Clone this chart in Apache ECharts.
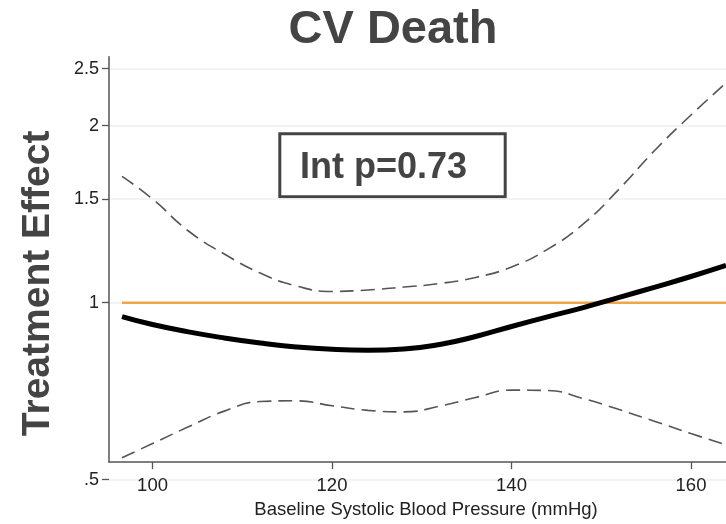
<!DOCTYPE html>
<html>
<head>
<meta charset="utf-8">
<script src="https://cdn.jsdelivr.net/npm/echarts@6/dist/echarts.min.js"></script>
<style>
  html, body { margin: 0; padding: 0; background: #fff; }
  #chart { width: 726px; height: 524px; }
</style>
</head>
<body>
<div id="chart"></div>
<script>
// Systolic blood pressure (mmHg) at which the effect curves are sampled
const sbp = [96.6, 100, 104, 108, 112, 116, 120, 124, 128, 132, 136, 140, 144, 148, 152, 156, 160, 163.9];
// Estimated treatment effect (hazard ratio)
const effect = [0.947, 0.918, 0.892, 0.871, 0.854, 0.841, 0.833, 0.830, 0.834, 0.849, 0.876, 0.911, 0.946, 0.981, 1.021, 1.063, 1.108, 1.157];
// Upper and lower confidence limits
const upperCI = [1.640, 1.501, 1.324, 1.210, 1.123, 1.068, 1.045, 1.051, 1.063, 1.078, 1.104, 1.150, 1.232, 1.361, 1.561, 1.818, 2.085, 2.364];
const lowerCI = [0.545, 0.576, 0.615, 0.654, 0.679, 0.681, 0.668, 0.656, 0.652, 0.667, 0.690, 0.710, 0.709, 0.687, 0.658, 0.628, 0.599, 0.573];
// Line of no effect
const nullEffect = 1;
// Axis ticks
const xTicks = [100, 120, 140, 160];
const yTicks = [0.5, 1, 1.5, 2, 2.5];
const yTickLabels = ['.5', '1', '1.5', '2', '2.5'];
const interactionLabel = 'Int p=0.73';

const FONT = "'Liberation Sans', Arial, Helvetica, sans-serif";
const X_MIN = 95.15, X_MAX = 163.9;

const pairs = ys => sbp.map((x, i) => [x, ys[i]]);
const nullLine = [[sbp[0], nullEffect], [sbp[sbp.length - 1], nullEffect]];

const chart = echarts.init(document.getElementById('chart'), null, { renderer: 'canvas' });

chart.setOption({
  backgroundColor: '#ffffff',
  animation: false,
  title: {
    text: 'CV Death',
    left: 388,
    top: 2,
    textAlign: 'center',
    textStyle: { fontFamily: FONT, fontSize: 47, fontWeight: 'bold', color: '#444444' }
  },
  grid: [
    // data area (y runs from .5 at the bottom)
    { left: 109, right: 0, top: 56.7, bottom: 44.3 },
    // frame carrying the x axis and y axis line
    { left: 109, right: 0, top: 56.7, bottom: 55 }
  ],
  xAxis: [
    { gridIndex: 0, type: 'value', min: X_MIN, max: X_MAX, show: false },
    {
      gridIndex: 1, type: 'value', min: X_MIN, max: X_MAX,
      name: 'Baseline Systolic Blood Pressure (mmHg)',
      nameLocation: 'middle',
      nameGap: 32,
      nameTextStyle: { fontFamily: FONT, fontSize: 18.5, color: '#222222', padding: [0, 0, 0, 17] },
      axisLine: { show: true, lineStyle: { color: '#555555', width: 1.5 } },
      axisTick: { show: true, length: 7, customValues: xTicks, lineStyle: { color: '#555555', width: 1.3 } },
      axisLabel: { customValues: xTicks, margin: 14, fontFamily: FONT, fontSize: 18.5, color: '#222222' },
      splitLine: { show: false }
    }
  ],
  yAxis: [
    {
      gridIndex: 0, type: 'log', min: 0.5, max: 2.62,
      axisLine: { show: false },
      axisTick: { show: true, length: 7, customValues: yTicks, lineStyle: { color: '#555555', width: 1.3 } },
      axisLabel: {
        customValues: yTicks, margin: 10,
        fontFamily: FONT, fontSize: 18, color: '#222222',
        formatter: v => yTickLabels[yTicks.findIndex(t => Math.abs(t - v) < 1e-6)]
      },
      splitLine: { show: true, lineStyle: { color: '#eceff3', width: 1.5 } }
    },
    {
      gridIndex: 1, type: 'value', min: 0, max: 1,
      axisLine: { show: true, lineStyle: { color: '#555555', width: 1.5 } },
      axisTick: { show: false },
      axisLabel: { show: false },
      splitLine: { show: false }
    }
  ],
  series: [
    {
      type: 'line', xAxisIndex: 0, yAxisIndex: 0,
      data: nullLine, symbol: 'none',
      lineStyle: { color: '#efa54a', width: 2.5 }
    },
    {
      type: 'line', xAxisIndex: 0, yAxisIndex: 0,
      data: pairs(upperCI), symbol: 'none', smooth: true,
      lineStyle: { color: '#555555', width: 1.6, type: [14, 7] }
    },
    {
      type: 'line', xAxisIndex: 0, yAxisIndex: 0,
      data: pairs(lowerCI), symbol: 'none', smooth: true,
      lineStyle: { color: '#555555', width: 1.6, type: [14, 7] }
    },
    {
      type: 'line', xAxisIndex: 0, yAxisIndex: 0,
      data: pairs(effect), symbol: 'none', smooth: true,
      lineStyle: { color: '#000000', width: 5 }
    }
  ],
  graphic: [
    {
      type: 'text',
      x: 38, y: 283.4,
      rotation: Math.PI / 2,
      style: {
        text: 'Treatment Effect',
        font: 'bold 39px ' + FONT,
        fill: '#444444',
        align: 'center',
        verticalAlign: 'middle'
      }
    },
    {
      type: 'rect',
      shape: { x: 279.8, y: 133.8, width: 225.4, height: 63 },
      style: { fill: '#ffffff', stroke: '#444444', lineWidth: 3 }
    },
    {
      type: 'text',
      x: 300, y: 168,
      style: {
        text: interactionLabel,
        font: 'bold 36px ' + FONT,
        fill: '#444444',
        align: 'left',
        verticalAlign: 'middle'
      }
    }
  ]
});
</script>
</body>
</html>
